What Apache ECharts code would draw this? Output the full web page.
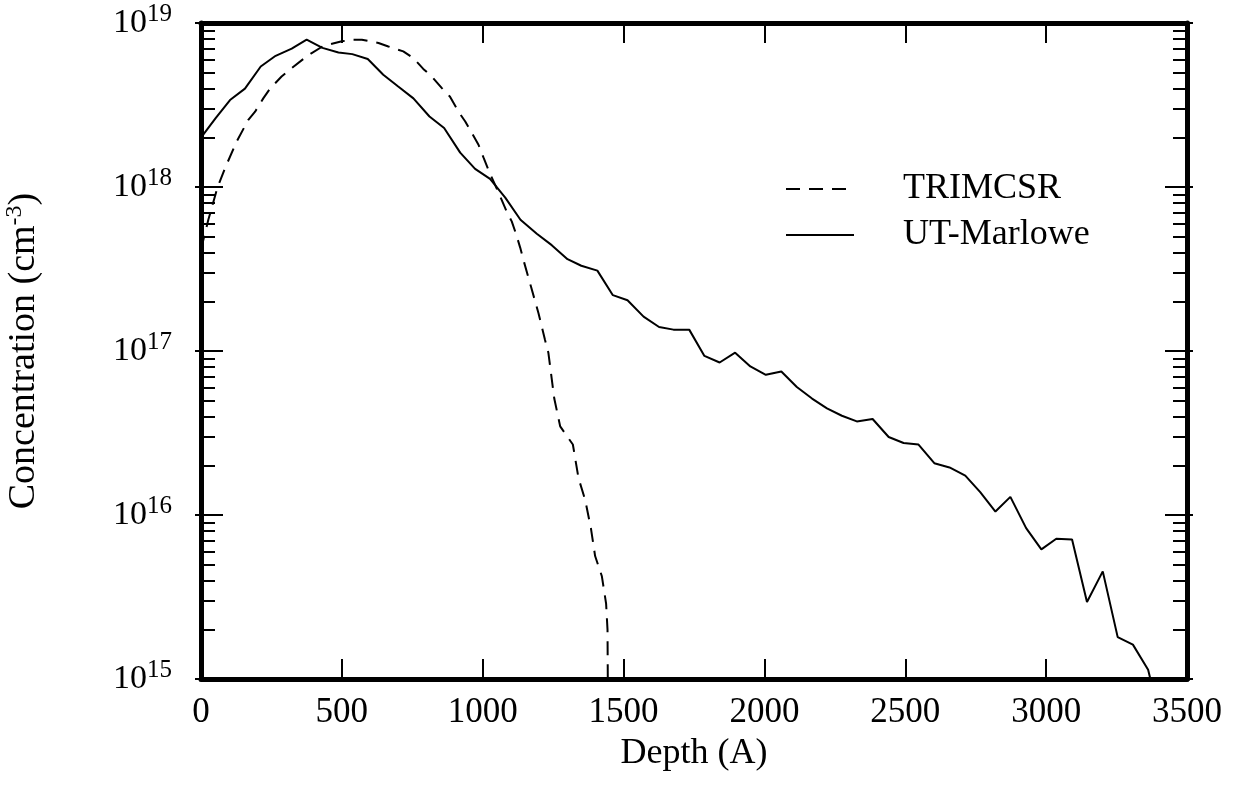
<!DOCTYPE html>
<html>
<head>
<meta charset="utf-8">
<script src="https://cdn.jsdelivr.net/npm/echarts@6/dist/echarts.min.js"></script>
<style>html,body{margin:0;padding:0;background:#fff;}#c{width:1238px;height:785px;}</style>
</head>
<body>
<div id="c"></div>
<script>
// ---- data ----
const depthSolid = [0,52,103,156,212,265,322,375,431,488,537,592,647,700,754,811,863,920,973,1026,1080,1134,1192,1245,1301,1350,1407,1462,1514,1571,1626,1677,1733,1787,1841,1896,1950,2005,2060,2115,2169,2222,2275,2328,2384,2441,2494,2547,2603,2657,2713,2766,2820,2873,2929,2983,3036,3092,3145,3201,3254,3308,3362,3370];
const concSolid = [2.0e18,2.63e18,3.39e18,3.98e18,5.43e18,6.31e18,6.97e18,7.91e18,7.05e18,6.61e18,6.46e18,6.03e18,4.84e18,4.10e18,3.47e18,2.69e18,2.29e18,1.62e18,1.29e18,1.12e18,8.61e17,6.31e17,5.19e17,4.42e17,3.63e17,3.31e17,3.09e17,2.19e17,2.04e17,1.62e17,1.40e17,1.35e17,1.35e17,9.33e16,8.51e16,9.77e16,8.05e16,7.16e16,7.50e16,6.03e16,5.13e16,4.47e16,4.03e16,3.72e16,3.85e16,2.99e16,2.75e16,2.69e16,2.07e16,1.95e16,1.74e16,1.38e16,1.05e16,1.29e16,8.32e15,6.17e15,7.16e15,7.08e15,2.95e15,4.53e15,1.80e15,1.62e15,1.14e15,1.0e15];
const depthDashed = [0,26,59,85,127,168,192,221,245,286,322,363,393,434,500,535,571,630,665,718,754,789,819,855,884,914,938,961,985,1003,1023,1044,1062,1085,1103,1119,1133,1147,1171,1198,1221,1233,1245,1254,1275,1320,1340,1364,1384,1399,1423,1438,1443,1444];
const concDashed = [4.17e17,6.31e17,1.0e18,1.30e18,1.90e18,2.57e18,2.88e18,3.47e18,3.98e18,4.72e18,5.31e18,6.03e18,6.56e18,7.24e18,7.73e18,7.91e18,7.91e18,7.55e18,7.19e18,6.71e18,6.11e18,5.25e18,4.72e18,4.01e18,3.55e18,2.88e18,2.51e18,2.14e18,1.81e18,1.51e18,1.24e18,1.03e18,8.77e17,7.08e17,6.17e17,5.13e17,4.27e17,3.47e17,2.48e17,1.70e17,1.17e17,9.77e16,6.76e16,5.13e16,3.47e16,2.69e16,1.68e16,1.23e16,8.32e15,5.62e15,4.23e15,2.88e15,2.0e15,1.0e15];
const seriesNames = ['TRIMCSR','UT-Marlowe'];
const xTicks = [0,500,1000,1500,2000,2500,3000,3500];
const yDecades = [1e15,1e16,1e17,1e18,1e19];
const minorMultipliers = [2,3,4,5,6,7,8,9];

// ---- build ----
const minorTickValues = [];
for (let i = 0; i < yDecades.length - 1; i++) {
  minorMultipliers.forEach(m => minorTickValues.push(m * yDecades[i]));
}
const FONT = '"Liberation Serif", "DejaVu Serif", serif';
const solidData = depthSolid.map((d, i) => [d, concSolid[i]]);
const dashedData = depthDashed.map((d, i) => [d, concDashed[i]]);

function yAxisBase(extra) {
  return Object.assign({
    type: 'log', logBase: 10, min: 1e15, max: 1e19, interval: 1,
    splitLine: {show: false}, minorTick: {show: false}
  }, extra);
}

const chart = echarts.init(document.getElementById('c'), null, {renderer: 'canvas'});
chart.setOption({
  animation: false,
  backgroundColor: '#fff',
  grid: {left: 201, right: 51, top: 23, bottom: 106, containLabel: false, outerBoundsMode: 'none'},
  legend: {
    orient: 'vertical', left: 780, top: 166, itemGap: 10,
    itemWidth: 68, itemHeight: 38,
    itemStyle: {color: 'rgba(0,0,0,0)', borderWidth: 0, opacity: 0},
    textStyle: {fontFamily: FONT, fontSize: 36, color: '#000', padding: [0, 0, 0, 44]},
    data: seriesNames
  },
  xAxis: [{
    type: 'value', min: 0, max: 3500, interval: 500, position: 'bottom',
    axisLine: {show: true, onZero: false, lineStyle: {color: '#000', width: 5}},
    axisTick: {show: true, inside: true, length: 20, lineStyle: {color: '#000', width: 2}},
    axisLabel: {fontFamily: FONT, fontSize: 35, color: '#000', margin: 16,
      formatter: function (v) { return String(v); }},
    splitLine: {show: false},
    name: 'Depth (A)', nameLocation: 'middle', nameGap: 57,
    nameTextStyle: {fontFamily: FONT, fontSize: 36, color: '#000'}
  }, {
    type: 'value', min: 0, max: 3500, interval: 500, position: 'top',
    axisLine: {show: true, onZero: false, lineStyle: {color: '#000', width: 5}},
    axisTick: {show: true, inside: true, length: 20, lineStyle: {color: '#000', width: 2}},
    axisLabel: {show: false}, splitLine: {show: false}
  }],
  yAxis: [
    yAxisBase({
      position: 'left',
      axisLine: {show: true, onZero: false, lineStyle: {color: '#000', width: 5}},
      axisTick: {show: true, inside: true, length: 22, lineStyle: {color: '#000', width: 2}},
      axisLabel: {
        margin: 29, color: '#000',
        formatter: function (v) { return '{b|10}{s|' + Math.round(Math.log10(v)) + '}'; },
        rich: {
          b: {fontFamily: FONT, fontSize: 34, color: '#000'},
          s: {fontFamily: FONT, fontSize: 25, color: '#000', padding: [0, 0, 17, 0]}
        }
      },
      name: 'Concentration (cm{sup|-3})', nameLocation: 'middle', nameRotate: 90, nameGap: 156,
      nameTextStyle: {fontFamily: FONT, fontSize: 38, color: '#000',
        rich: {sup: {fontFamily: FONT, fontSize: 24, color: '#000', padding: [0, 0, 18, 0]}}}
    }),
    yAxisBase({
      position: 'left',
      axisLine: {show: false},
      axisTick: {show: true, inside: true, length: 14, lineStyle: {color: '#000', width: 2}, customValues: minorTickValues},
      axisLabel: {show: false}
    }),
    yAxisBase({
      position: 'left',
      axisLine: {show: false},
      axisTick: {show: true, inside: false, length: 6, lineStyle: {color: '#000', width: 2}},
      axisLabel: {show: false}
    }),
    yAxisBase({
      position: 'right',
      axisLine: {show: true, onZero: false, lineStyle: {color: '#000', width: 5}},
      axisTick: {show: true, inside: true, length: 22, lineStyle: {color: '#000', width: 2}},
      axisLabel: {show: false}
    }),
    yAxisBase({
      position: 'right',
      axisLine: {show: false},
      axisTick: {show: true, inside: true, length: 14, lineStyle: {color: '#000', width: 2}, customValues: minorTickValues},
      axisLabel: {show: false}
    }),
    yAxisBase({
      position: 'right',
      axisLine: {show: false},
      axisTick: {show: true, inside: false, length: 6, lineStyle: {color: '#000', width: 2}},
      axisLabel: {show: false}
    })
  ],
  series: [{
    name: seriesNames[0], type: 'line', xAxisIndex: 0, yAxisIndex: 0,
    data: dashedData, symbol: 'none', clip: true,
    lineStyle: {color: '#000', width: 2, type: [14, 9]},
    itemStyle: {color: '#000'}
  }, {
    name: seriesNames[1], type: 'line', xAxisIndex: 0, yAxisIndex: 0,
    data: solidData, symbol: 'none', clip: true,
    lineStyle: {color: '#000', width: 2, type: 'solid'},
    itemStyle: {color: '#000'}
  }]
});
</script>
</body>
</html>
